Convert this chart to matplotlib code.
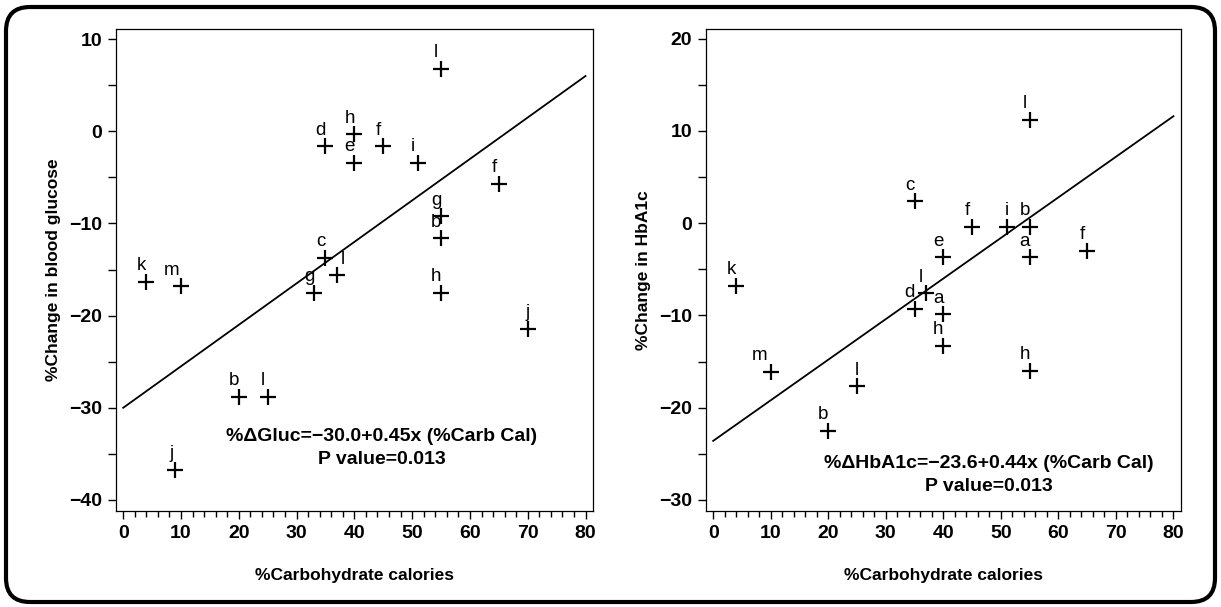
import matplotlib.pyplot as plt
import matplotlib.patches as patches
from matplotlib.ticker import MultipleLocator

plt.rcParams['font.family'] = ['Liberation Sans', 'DejaVu Sans']

# Left panel: % change in blood glucose vs % carbohydrate calories
gluc_x = [55, 40, 35, 45, 40, 51, 65, 55, 55, 35, 37, 4, 10, 33, 55, 70, 20, 25, 9]
gluc_y = [6.8, -0.3, -1.6, -1.6, -3.4, -3.4, -5.7, -9.2, -11.6, -13.7, -15.6,
          -16.3, -16.8, -17.5, -17.5, -21.4, -28.8, -28.8, -36.7]
gluc_lab = ['l', 'h', 'd', 'f', 'e', 'i', 'f', 'g', 'b', 'c', 'l', 'k', 'm',
            'g', 'h', 'j', 'b', 'l', 'j']
gluc_fit = (-30.0, 0.45)
gluc_p = 0.013

# Right panel: % change in HbA1c vs % carbohydrate calories
hba_x = [55, 35, 45, 51, 55, 40, 55, 65, 4, 37, 35, 40, 40, 10, 55, 25, 20]
hba_y = [11.2, 2.4, -0.4, -0.4, -0.4, -3.7, -3.7, -3.0, -6.8, -7.6, -9.3,
         -9.9, -13.3, -16.1, -16.0, -17.7, -22.5]
hba_lab = ['l', 'c', 'f', 'i', 'b', 'e', 'a', 'f', 'k', 'l', 'd', 'a', 'h',
           'm', 'h', 'l', 'b']
hba_fit = (-23.6, 0.44)
hba_p = 0.013

xticks = [0, 10, 20, 30, 40, 50, 60, 70, 80]

FS = 14


def panel(ax, xs, ys, labs, fit, pval, name, ylabel, ylim, yticks, eq_xy, nudge):
    b0, b1 = fit
    ax.plot([0, 80], [b0, b0 + b1 * 80], color='black', lw=1.3)
    ax.plot(xs, ys, ls='none', marker='+', ms=12, mew=1.6, color='black')
    for i, (x, y, s) in enumerate(zip(xs, ys, labs)):
        dx = nudge.get(i, -3.5)
        ax.annotate(s, (x, y), xytext=(dx, 11.5), textcoords='offset points',
                    ha='center', va='center', fontsize=13.5)
    eq = f"%Δ{name}=−{abs(b0):.1f}+{b1:.2f}x (%Carb Cal)"
    ax.text(eq_xy[0], eq_xy[1], eq, ha='center', va='center', fontsize=FS,
            fontweight='bold')
    ax.text(eq_xy[0], eq_xy[1] - 2.5, f"P value={pval}", ha='center',
            va='center', fontsize=FS, fontweight='bold')

    ax.set_xlim(-1.25, 81.3)
    ax.set_ylim(*ylim)
    ax.set_xticks(xticks)
    ax.xaxis.set_minor_locator(MultipleLocator(2))
    ax.set_yticks(yticks)
    ax.yaxis.set_minor_locator(MultipleLocator(5))
    ax.tick_params(axis='both', which='major', direction='out', length=6,
                   width=1, labelsize=FS, pad=4)
    ax.tick_params(axis='x', which='minor', direction='out', length=4, width=1)
    ax.tick_params(axis='y', which='minor', direction='out', length=6, width=1)
    for t in ax.get_xticklabels() + ax.get_yticklabels():
        t.set_fontweight('bold')
    for sp in ax.spines.values():
        sp.set_linewidth(0.9)
    ax.set_xlabel('%Carbohydrate calories', fontsize=12.5, fontweight='bold',
                  labelpad=19)
    ax.set_ylabel(ylabel, fontsize=12.5, fontweight='bold', labelpad=6)


fig = plt.figure(figsize=(12.21, 6.07), dpi=100)

# rounded outer frame in pixel units
bg = fig.add_axes([0, 0, 1, 1], zorder=-1)
bg.set_xlim(0, 1221)
bg.set_ylim(607, 0)
bg.axis('off')
bg.add_patch(patches.FancyBboxPatch((6, 7), 1209, 595,
                                    boxstyle='round,pad=0,rounding_size=24',
                                    fc='none', ec='black', lw=3))

ax1 = fig.add_axes([0.0950, 0.1582, 0.3907, 0.794])
ax2 = fig.add_axes([0.5782, 0.1582, 0.3890, 0.794])

panel(ax1, gluc_x, gluc_y, gluc_lab, gluc_fit, gluc_p, 'Gluc',
      '%Change in blood glucose', (-41.2, 11.1), [-40, -30, -20, -10, 0, 10],
      (44.7, -33.1), {10: 4, 12: -7, 15: 0, 18: -3})
panel(ax2, hba_x, hba_y, hba_lab, hba_fit, hba_p, 'HbA1c',
      '%Change in HbA1c', (-31.2, 21.05), [-30, -20, -10, 0, 10, 20],
      (47.9, -26.05), {3: 0, 13: -8, 15: 0})

fig.savefig('out.png', dpi=100)
